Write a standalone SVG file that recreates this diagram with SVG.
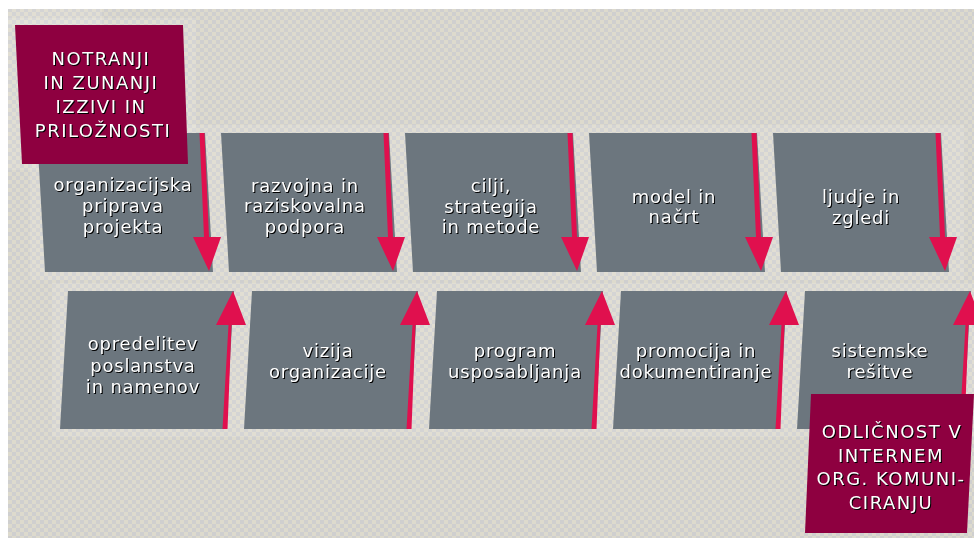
<svg xmlns="http://www.w3.org/2000/svg" width="974" height="538" viewBox="0 0 974 538">
  <defs>
    <pattern id="checker" width="8" height="8" patternUnits="userSpaceOnUse">
      <rect width="8" height="8" fill="#dddacd"/>
      <rect width="4" height="4" fill="#cfcfcf"/>
      <rect x="4" y="4" width="4" height="4" fill="#cfcfcf"/>
    </pattern>
    <!-- downward arrow along the right edge of an upper box (box origin at x=0) -->
    <path id="arrDown" d="M162.5 133 H167.5 L172 237 H184 L172 271 L156 237 H167 Z"/>
    <!-- upward arrow along the right edge of a lower box (box origin at x=0) -->
    <path id="arrUp" d="M154.5 429 H159.5 L163.5 325 H178 L165 291 L148 325 H160.5 Z"/>
  </defs>
  <style>
    .step { fill: #6c767e; }
    .key { fill: #8e0040; }
    .halo { fill: #ffffff; opacity: 0.12; }
    .arrow { fill: #e0104e; }
    text { fill: #ffffff; font-family: "DejaVu Sans", "Verdana", sans-serif; text-anchor: middle; filter: drop-shadow(1px 1px 0 #000000); }
    .lc { font-size: 18px; letter-spacing: 0.8px; }
    .uc { font-size: 18px; letter-spacing: 1.5px; }
  </style>

  <!-- page and panel background -->
  <rect width="974" height="538" fill="#ffffff"/>
  <rect x="8" y="9" width="966" height="529" fill="url(#checker)"/>

  <!-- light halos behind the rows -->
  <rect class="halo" x="8" y="9" width="94" height="16"/>
  <rect class="halo" x="8" y="18" width="188" height="152"/>
  <rect class="halo" x="30" y="125" width="934" height="155"/>
  <rect class="halo" x="52" y="283" width="922" height="154"/>

  <!-- upper row -->
  <g id="step-organizacijska">
    <polygon class="step" points="37,133 205,133 213,272 45,272"/>
    <text class="lc" x="123" y="191">organizacijska</text>
    <text class="lc" x="123" y="212">priprava</text>
    <text class="lc" x="123" y="233">projekta</text>
  </g>
  <g id="step-razvojna">
    <polygon class="step" points="221,133 389,133 397,272 229,272"/>
    <text class="lc" x="305" y="192">razvojna in</text>
    <text class="lc" x="305" y="212">raziskovalna</text>
    <text class="lc" x="305" y="233">podpora</text>
  </g>
  <g id="step-cilji">
    <polygon class="step" points="405,133 573,133 581,272 413,272"/>
    <text class="lc" x="491" y="192">cilji,</text>
    <text class="lc" x="491" y="213">strategija</text>
    <text class="lc" x="491" y="233">in metode</text>
  </g>
  <g id="step-model">
    <polygon class="step" points="589,133 757,133 765,272 597,272"/>
    <text class="lc" x="674" y="203">model in</text>
    <text class="lc" x="674" y="223">načrt</text>
  </g>
  <g id="step-ljudje">
    <polygon class="step" points="773,133 941,133 949,272 781,272"/>
    <text class="lc" x="861" y="203">ljudje in</text>
    <text class="lc" x="861" y="224">zgledi</text>
  </g>

  <!-- lower row -->
  <g id="step-opredelitev">
    <polygon class="step" points="68,291 234,291 226,429 60,429"/>
    <text class="lc" x="143" y="350">opredelitev</text>
    <text class="lc" x="143" y="372">poslanstva</text>
    <text class="lc" x="143" y="393">in namenov</text>
  </g>
  <g id="step-vizija">
    <polygon class="step" points="252,291 418,291 410,429 244,429"/>
    <text class="lc" x="328" y="357">vizija</text>
    <text class="lc" x="328" y="378">organizacije</text>
  </g>
  <g id="step-program">
    <polygon class="step" points="437,291 603,291 595,429 429,429"/>
    <text class="lc" x="515" y="357">program</text>
    <text class="lc" x="515" y="378">usposabljanja</text>
  </g>
  <g id="step-promocija">
    <polygon class="step" points="621,291 787,291 779,429 613,429"/>
    <text class="lc" x="696" y="357">promocija in</text>
    <text class="lc" x="696" y="378">dokumentiranje</text>
  </g>
  <g id="step-sistemske">
    <polygon class="step" points="805,291 971,291 963,429 797,429"/>
    <text class="lc" x="880" y="357">sistemske</text>
    <text class="lc" x="880" y="378">rešitve</text>
  </g>

  <!-- connectors -->
  <g id="connectors" class="arrow">
    <use href="#arrDown" x="37"/>
    <use href="#arrDown" x="221"/>
    <use href="#arrDown" x="405"/>
    <use href="#arrDown" x="589"/>
    <use href="#arrDown" x="773"/>
    <use href="#arrUp" x="68"/>
    <use href="#arrUp" x="252"/>
    <use href="#arrUp" x="437"/>
    <use href="#arrUp" x="621"/>
    <use href="#arrUp" x="805"/>
  </g>

  <!-- start and end cards -->
  <g id="start">
    <polygon class="key" points="15,25 183,25 188,164 22,164"/>
    <text class="uc" x="101" y="65">NOTRANJI</text>
    <text class="uc" x="101" y="89">IN ZUNANJI</text>
    <text class="uc" x="101" y="113">IZZIVI IN</text>
    <text class="uc" x="103" y="137">PRILOŽNOSTI</text>
  </g>
  <g id="end">
    <polygon class="key" points="811,394 974,394 967,533 805,533"/>
    <text class="uc" x="892" y="438">ODLIČNOST V</text>
    <text class="uc" x="891" y="462">INTERNEM</text>
    <text class="uc" x="891" y="485">ORG. KOMUNI-</text>
    <text class="uc" x="891" y="509">CIRANJU</text>
  </g>
</svg>
